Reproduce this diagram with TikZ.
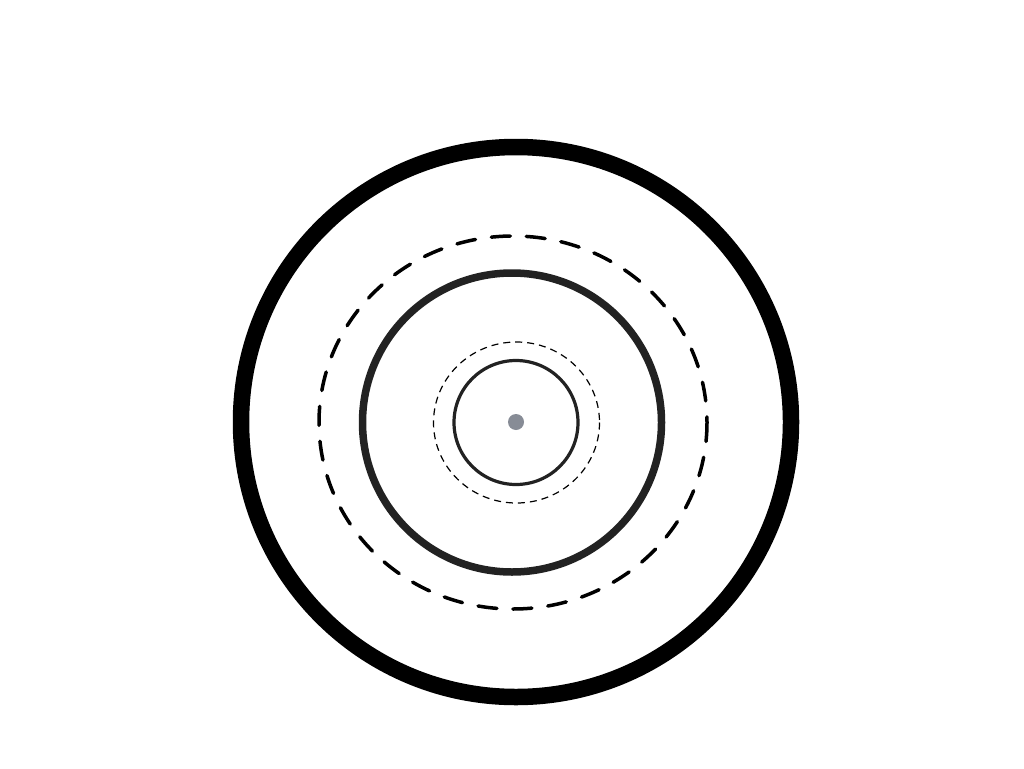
\documentclass[tikz,border=0pt]{standalone}
\usetikzlibrary{shapes.geometric}
\definecolor{ringgray}{HTML}{222222}
\definecolor{dotgray}{HTML}{878C96}
\tikzset{
  outerring/.style={draw=black, line width=16.5pt},
  bigdash/.style={draw=black, line width=3.5pt, line cap=round, dash pattern=on 19pt off 16pt},
  midring/.style={draw=ringgray, line width=7.5pt},
  smalldash/.style={draw=black, line width=1.2pt, dash pattern=on 7pt off 5pt},
  innerring/.style={draw=ringgray, line width=3.2pt},
}
\begin{document}
\begin{tikzpicture}[x=1pt,y=-1pt]
\useasboundingbox (0,0) rectangle (1024,768);
\fill[white] (0,0) rectangle (1024,768);
\coordinate (c) at (516,422);
\draw[outerring] (c) circle[radius=275];
\draw[bigdash] (513,422.5) ellipse[x radius=194, y radius=186.5];
\draw[midring] (512,422.5) circle[radius=149.5];
\draw[smalldash] (516.5,422.5) ellipse[x radius=83, y radius=80.5];
\draw[innerring] (516,422.5) circle[radius=62];
\node[circle, fill=dotgray, inner sep=0pt, minimum size=16pt] (dot) at (c) {};
\end{tikzpicture}
\end{document}
